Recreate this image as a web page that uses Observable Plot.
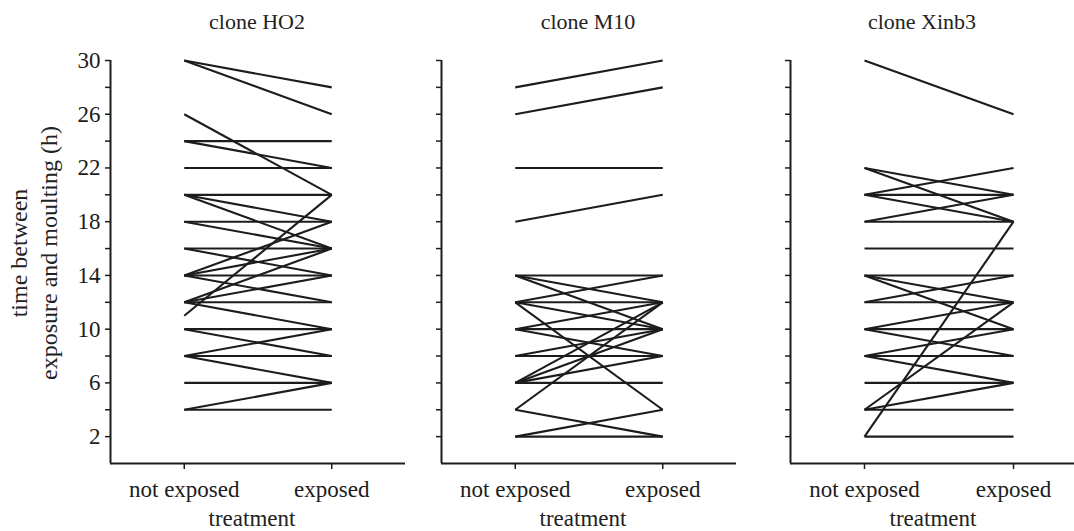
<!DOCTYPE html>
<html><head><meta charset="utf-8">
<script src="https://cdn.jsdelivr.net/npm/d3@7"></script>
<script src="https://cdn.jsdelivr.net/npm/@observablehq/plot@0.6"></script>
<style>
body{margin:0;background:#fff;}
#wrap{position:relative;width:1074px;height:531px;overflow:hidden;font-family:"Liberation Serif","Times New Roman",serif;color:#222;}
#wrap svg{position:absolute;top:0;}
.lbl{position:absolute;white-space:nowrap;font-size:23px;line-height:23px;text-align:center;transform:translateX(-50%);}
#ylab{position:absolute;left:34px;top:253px;width:330px;font-size:24px;line-height:30px;text-align:center;transform:translate(-50%,-50%) rotate(-90deg);white-space:nowrap;}
</style></head><body><div id="wrap"></div>
<script>
const treatments = ["not exposed", "exposed"];
const clones = ["clone HO2", "clone M10", "clone Xinb3"];
const yTicksMajor = [2, 6, 10, 14, 18, 22, 26, 30];
const yTicksMinor = [4, 8, 12, 16, 20, 24, 28];

const ho2NotExposed = [30,30,26,24,24,22,20,20,20,18,18,16,16,14,14,14,14,12,12,12,12,11,10,10,8,8,8,6,4,4];
const ho2Exposed    = [28,26,20,24,22,22,20,18,16,18,16,16,14,14,16,18,12,12,14,10,16,20,10,8,8,10,6,6,4,6];

const m10NotExposed = [28,26,22,18,14,14,14,12,12,12,12,10,10,10,8,8,6,6,6,6,4,4,2,2];
const m10Exposed    = [30,28,22,20,14,12,10,12,14,10,4,10,12,8,8,10,6,12,10,8,12,2,2,4];

const xinNotExposed = [30,22,22,20,20,20,18,18,16,14,14,14,12,12,10,10,10,8,8,8,6,4,4,4,2,2];
const xinExposed    = [26,20,18,20,22,18,18,20,16,14,12,10,12,14,10,12,8,8,10,6,6,4,6,12,2,18];

const series = [
  {ne: ho2NotExposed, ex: ho2Exposed},
  {ne: m10NotExposed, ex: m10Exposed},
  {ne: xinNotExposed, ex: xinExposed}
];

// panel layout (px)
const panels = [
  {left: 0,   width: 410, ml: 110, mr: 5, xdom: [-0.5, 1.5], title: 257, tr: 252},
  {left: 410, width: 331, ml: 31,  mr: 5, xdom: [-0.5, 1.5], title: 588, tr: 583},
  {left: 741, width: 333, ml: 49,  mr: 0, xdom: [-74/149, -74/149 + 284/149], title: 922, tr: 933}
];

const wrap = document.getElementById("wrap");
const ink = "#1c1c1c";

panels.forEach((p, k) => {
  const s = series[k];
  const pairs = s.ne.map((v, i) => ({from: v, to: s.ex[i]}));
  const chart = Plot.plot({
    width: p.width,
    height: 531,
    marginLeft: p.ml,
    marginRight: p.mr,
    marginTop: 60,
    marginBottom: 68,
    style: {fontFamily: '"Liberation Serif","Times New Roman",serif', fontSize: "23px", color: ink, background: "transparent", overflow: "visible"},
    x: {type: "linear", domain: p.xdom},
    y: {type: "linear", domain: [0, 30]},
    marks: [
      Plot.axisY({ticks: yTicksMajor, tickSize: 5, tickPadding: 5, strokeWidth: 1.5,
        tickFormat: k === 0 ? (d => String(d)) : (() => ""), label: null, fontSize: 23}),
      Plot.axisY({ticks: yTicksMinor, tickSize: 5, strokeWidth: 1.5, tickFormat: () => "", label: null}),
      Plot.axisX({ticks: [0, 1], tickSize: 6, tickPadding: 11, strokeWidth: 1.5,
        tickFormat: i => treatments[i], label: null, fontSize: 23}),
      Plot.ruleY([0], {stroke: ink, strokeWidth: 2}),
      Plot.ruleX([p.xdom[0]], {stroke: ink, strokeWidth: 2}),
      Plot.link(pairs, {x1: () => 0, x2: () => 1, y1: "from", y2: "to", stroke: ink, strokeWidth: 2.1})
    ]
  });
  chart.style.left = p.left + "px";
  wrap.appendChild(chart);

  const t = document.createElement("div");
  t.className = "lbl";
  t.style.left = p.title + "px";
  t.style.top = "10px";
  t.style.fontSize = "22px";
  t.textContent = clones[k];
  wrap.appendChild(t);

  const tr = document.createElement("div");
  tr.className = "lbl";
  tr.style.left = p.tr + "px";
  tr.style.top = "509px";
  tr.style.lineHeight = "20px";
  tr.textContent = "treatment";
  wrap.appendChild(tr);
});

const yl = document.createElement("div");
yl.id = "ylab";
yl.innerHTML = "time between<br>exposure and moulting (h)";
wrap.appendChild(yl);
</script>
</body></html>
